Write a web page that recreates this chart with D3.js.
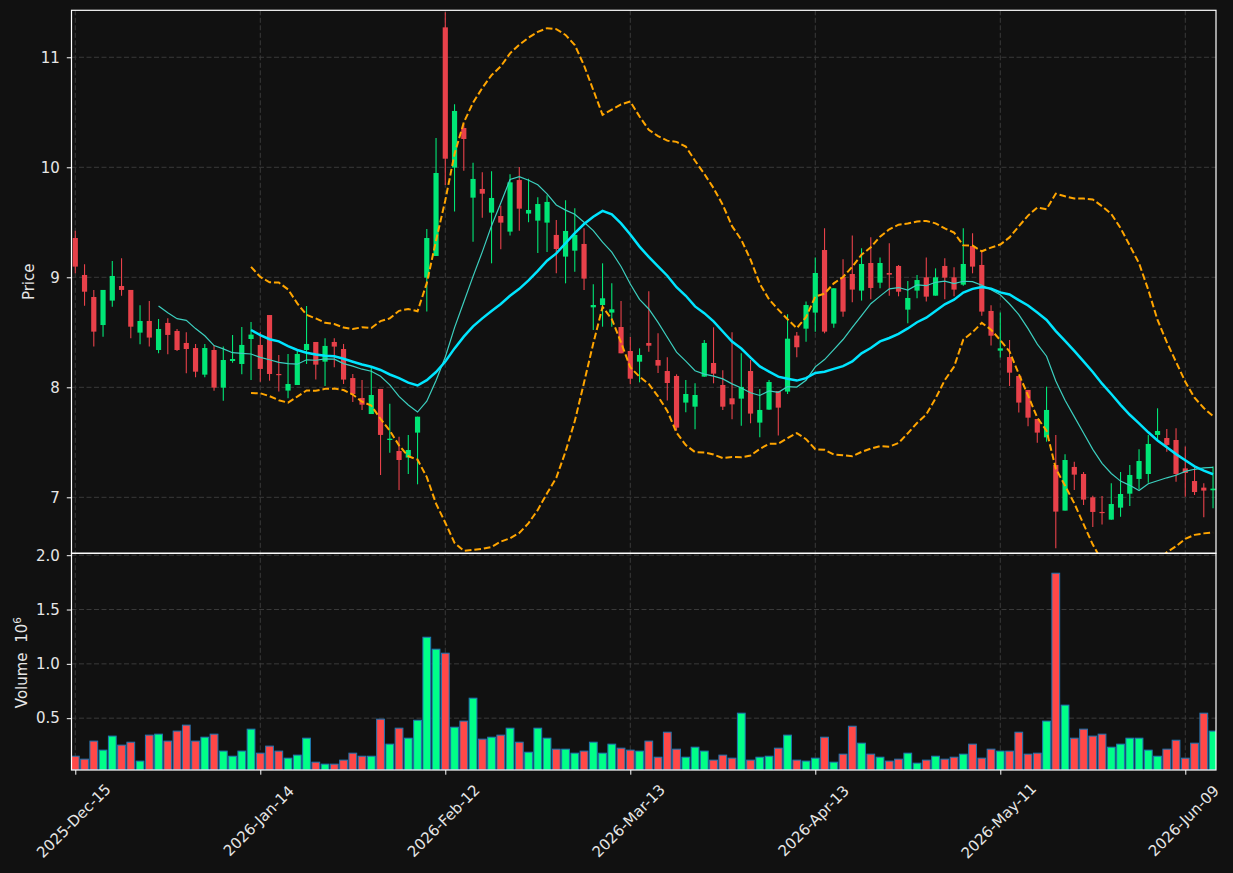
<!DOCTYPE html>
<html>
<head>
<meta charset="utf-8">
<script src="https://cdn.jsdelivr.net/npm/d3@7"></script>
<style>
  html, body { margin: 0; padding: 0; background: #111111; }
  svg { display: block; }
  text { font-family: "DejaVu Sans", sans-serif; }
</style>
</head>
<body>
<script>
// daily candles, 124 trading sessions starting 2025-Dec-15 (x is the session index)
const opens = [9.357,9.021,8.821,8.566,8.788,8.921,8.885,8.497,8.603,8.339,
  8.585,8.512,8.403,8.357,8.115,8.339,7.997,8.239,8.212,8.439,
  8.385,8.657,8.121,7.970,8.021,8.339,8.412,8.233,8.412,8.348,
  8.084,7.903,7.757,7.985,7.521,7.421,7.361,7.588,8.997,9.194,
  11.272,9.997,10.357,9.724,9.803,9.588,9.557,9.415,9.884,9.579,
  9.515,9.497,9.385,9.188,9.242,9.303,8.727,8.748,8.679,8.548,
  8.330,8.233,8.403,8.248,8.148,8.103,7.861,7.824,8.097,8.221,
  8.021,7.900,7.897,8.148,7.679,7.797,7.966,7.961,8.470,8.533,
  8.679,9.248,8.579,9.002,9.030,8.879,9.130,8.951,9.039,9.103,
  8.706,8.879,9.000,8.833,9.103,9.000,8.933,9.284,9.112,8.694,
  8.333,8.275,8.103,7.976,7.712,7.545,7.294,6.879,7.276,7.212,
  7.000,6.867,6.797,6.906,7.033,7.167,7.212,7.567,7.539,7.521,
  7.263,7.148,7.088,7.064];
const highs = [9.424,9.118,8.885,8.885,9.148,9.172,8.885,8.745,8.785,8.621,
  8.627,8.530,8.500,8.394,8.394,8.382,8.370,8.475,8.548,8.594,
  8.506,8.657,8.294,8.303,8.340,8.739,8.412,8.445,8.445,8.394,
  8.121,8.067,8.188,7.985,7.851,7.551,7.567,7.733,9.439,10.266,
  11.410,10.572,10.393,10.042,9.954,9.963,9.651,9.936,10.003,9.896,
  9.727,9.745,9.521,9.700,9.627,9.445,8.936,9.127,8.945,8.785,
  8.457,8.354,8.873,8.491,8.273,8.118,8.066,8.036,8.430,8.545,
  8.154,8.500,8.309,8.248,7.985,8.067,7.966,8.664,8.503,8.779,
  9.180,9.445,8.900,9.163,9.381,9.263,9.363,9.181,9.309,9.112,
  8.966,9.021,9.180,9.081,9.172,9.091,9.445,9.400,9.248,8.745,
  8.679,8.430,8.103,7.976,7.712,8.006,7.567,7.391,7.324,7.230,
  7.015,7.012,7.127,7.230,7.294,7.436,7.567,7.809,7.621,7.627,
  7.461,7.294,7.127,7.279];
const lows = [9.036,8.742,8.370,8.460,8.733,8.833,8.445,8.391,8.370,8.309,
  8.300,8.330,8.127,8.091,8.091,7.969,7.878,8.224,8.118,8.067,
  8.051,8.060,7.961,7.900,8.021,8.212,8.070,8.012,8.182,8.030,
  7.866,7.794,7.757,7.203,7.406,7.066,7.212,7.118,8.688,9.194,
  9.839,9.597,9.969,9.324,9.542,9.127,9.254,9.381,9.424,9.500,
  9.221,9.230,9.036,8.945,9.051,8.885,8.521,8.551,8.551,8.309,
  8.027,8.045,8.324,8.130,7.879,7.606,7.773,7.618,8.097,8.036,
  7.794,7.709,7.651,7.673,7.546,7.797,7.561,7.939,8.273,8.415,
  8.506,8.491,8.542,8.642,8.772,8.788,8.800,8.900,8.833,8.827,
  8.582,8.809,8.781,8.833,8.800,8.827,8.924,9.036,8.651,8.379,
  8.270,8.012,7.770,7.645,7.497,7.506,6.536,6.879,7.067,6.930,
  6.730,6.752,6.797,6.824,6.921,7.073,7.133,7.521,7.415,7.142,
  7.006,7.021,6.818,6.900];
const closes = [9.097,8.869,8.506,8.885,9.012,8.885,8.551,8.603,8.452,8.530,
  8.476,8.339,8.348,8.142,8.357,7.997,8.248,8.257,8.385,8.479,
  8.167,8.121,8.115,8.030,8.303,8.394,8.206,8.376,8.370,8.070,
  7.939,7.842,7.930,7.567,7.533,7.339,7.430,7.733,9.357,9.948,
  10.078,10.512,10.257,9.894,9.760,9.721,9.497,9.863,9.624,9.612,
  9.666,9.685,9.257,9.421,9.385,8.988,8.748,8.809,8.709,8.309,
  8.078,8.294,8.378,8.197,8.039,7.633,7.939,7.930,8.403,8.124,
  7.824,7.845,8.003,7.761,7.794,8.048,7.815,8.442,8.364,8.748,
  9.039,8.506,8.900,8.688,8.888,9.121,8.903,9.130,9.024,8.869,
  8.812,8.975,8.824,9.000,8.997,8.888,9.121,9.097,8.688,8.469,
  8.354,8.133,7.861,7.724,7.588,7.794,6.870,7.339,7.206,6.979,
  6.867,6.861,6.939,7.030,7.203,7.330,7.485,7.603,7.476,7.212,
  7.221,7.048,7.061,7.079];
// volume in millions
const volumes = [0.150,0.123,0.289,0.206,0.335,0.252,0.279,0.105,0.344,0.353,
  0.289,0.381,0.436,0.289,0.325,0.353,0.197,0.150,0.197,0.399,
  0.178,0.243,0.197,0.132,0.160,0.316,0.095,0.077,0.077,0.114,
  0.178,0.150,0.150,0.491,0.261,0.408,0.316,0.481,1.245,1.135,
  1.098,0.417,0.473,0.684,0.307,0.325,0.344,0.408,0.279,0.187,
  0.408,0.316,0.215,0.215,0.178,0.197,0.279,0.178,0.261,0.224,
  0.206,0.197,0.289,0.141,0.371,0.215,0.141,0.233,0.197,0.114,
  0.160,0.132,0.546,0.114,0.141,0.150,0.224,0.344,0.114,0.105,
  0.132,0.325,0.095,0.169,0.426,0.270,0.169,0.141,0.105,0.123,
  0.178,0.086,0.114,0.150,0.123,0.141,0.169,0.261,0.132,0.215,
  0.197,0.197,0.371,0.169,0.178,0.473,1.834,0.620,0.316,0.399,
  0.335,0.353,0.233,0.261,0.316,0.316,0.206,0.150,0.215,0.297,
  0.132,0.270,0.546,0.381];

const tickIdx = [0, 20, 40, 60, 80, 100, 120];
const tickLabels = ['2025-Dec-15','2026-Jan-14','2026-Feb-12','2026-Mar-13','2026-Apr-13','2026-May-11','2026-Jun-09'];
const priceTicks = [7, 8, 9, 10, 11];
const volTicks = [0.5, 1.0, 1.5, 2.0];

const width = 1233, height = 873;
const plotL = 71.5, plotR = 1216, plotT = 10.3, plotMid = 553.3, plotB = 770;

const upCol = '#00e676', downCol = '#e8414a';
const volUp = '#00ff88', volDown = '#ff4848';

// rolling stats from the closes
function rolling(n, fn) {
  return closes.map((c, i) => {
    if (i < n - 1) return null;
    return fn(closes.slice(i - n + 1, i + 1));
  });
}
// population std for the bands
const pstd = w => {
  const m = d3.mean(w);
  return Math.sqrt(d3.mean(w, v => (v - m) * (v - m)));
};
const ma10 = rolling(10, d3.mean);
const ma20 = rolling(20, d3.mean);
const bbUp = rolling(20, w => d3.mean(w) + 2 * pstd(w));
const bbLo = rolling(20, w => d3.mean(w) - 2 * pstd(w));

const x = d3.scaleLinear().domain([-0.41, 123.32]).range([plotL, plotR]);
const step = x(1) - x(0);
const yP = d3.scaleLinear().domain([6.491, 11.427]).range([plotMid, plotT]);
const yV = d3.scaleLinear()
  .domain([0.3 * d3.min(volumes), 1.1 * d3.max(volumes)])
  .range([plotB, plotMid]);

const svg = d3.select('body').append('svg')
  .attr('width', width)
  .attr('height', height);

svg.append('rect').attr('width', width).attr('height', height).attr('fill', '#111111');

const defs = svg.append('defs');
defs.append('clipPath').attr('id', 'clipP')
  .append('rect').attr('x', plotL).attr('y', plotT).attr('width', plotR - plotL).attr('height', plotMid - plotT);
defs.append('clipPath').attr('id', 'clipV')
  .append('rect').attr('x', plotL).attr('y', plotMid).attr('width', plotR - plotL).attr('height', plotB - plotMid);

// grid
const grid = svg.append('g')
  .attr('stroke', '#3a3a3a')
  .attr('stroke-width', 1)
  .attr('stroke-dasharray', '5,2.5');
grid.selectAll('.vg').data(tickIdx).enter().append('line')
  .attr('x1', d => x(d)).attr('x2', d => x(d))
  .attr('y1', plotT).attr('y2', plotB);
grid.selectAll('.hp').data(priceTicks).enter().append('line')
  .attr('x1', plotL).attr('x2', plotR)
  .attr('y1', d => yP(d)).attr('y2', d => yP(d));
grid.selectAll('.hv').data(volTicks).enter().append('line')
  .attr('x1', plotL).attr('x2', plotR)
  .attr('y1', d => yV(d)).attr('y2', d => yV(d));

// candles
const candles = svg.append('g').attr('clip-path', 'url(#clipP)');
const idx = d3.range(closes.length);
const colorOf = i => closes[i] >= opens[i] ? upCol : downCol;

candles.selectAll('.wick').data(idx).enter().append('line')
  .attr('x1', i => x(i)).attr('x2', i => x(i))
  .attr('y1', i => yP(highs[i])).attr('y2', i => yP(lows[i]))
  .attr('stroke', colorOf)
  .attr('stroke-width', 1.1);

const bodyW = step * 0.56;
candles.selectAll('.body').data(idx).enter().append('rect')
  .attr('x', i => x(i) - bodyW / 2)
  .attr('width', bodyW)
  .attr('y', i => yP(Math.max(opens[i], closes[i])))
  .attr('height', i => Math.max(1.2, Math.abs(yP(opens[i]) - yP(closes[i]))))
  .attr('fill', colorOf);

// moving averages and bands
const line = arr => d3.line()
  .defined(i => arr[i] != null)
  .x(i => x(i))
  .y(i => yP(arr[i]))(idx);

const lines = svg.append('g').attr('clip-path', 'url(#clipP)').attr('fill', 'none');
lines.append('path').attr('d', line(bbUp))
  .attr('stroke', '#ffa500').attr('stroke-width', 2).attr('stroke-dasharray', '6.7,2.9');
lines.append('path').attr('d', line(bbLo))
  .attr('stroke', '#ffa500').attr('stroke-width', 2).attr('stroke-dasharray', '6.7,2.9');
lines.append('path').attr('d', line(ma10))
  .attr('stroke', '#3ccfbf').attr('stroke-width', 1.2);
lines.append('path').attr('d', line(ma20))
  .attr('stroke', '#00e5ff').attr('stroke-width', 2.5);

// volume
const vol = svg.append('g').attr('clip-path', 'url(#clipV)');
const volW = step * 0.84;
vol.selectAll('rect').data(idx).enter().append('rect')
  .attr('x', i => x(i) - volW / 2)
  .attr('width', volW)
  .attr('y', i => yV(volumes[i]))
  .attr('height', i => plotB - yV(volumes[i]))
  .attr('fill', i => closes[i] >= opens[i] ? volUp : volDown)
  .attr('stroke', '#1f77b4')
  .attr('stroke-width', 1);

// axes
function styleAxis(g) {
  g.select('.domain').remove();
  g.selectAll('.tick line').attr('stroke', '#ffffff').attr('stroke-width', 1);
  g.selectAll('.tick text').attr('fill', '#e6e6e6').style('font-size', '15px');
}

svg.append('g')
  .attr('transform', `translate(${plotL},0)`)
  .call(d3.axisLeft(yP).tickValues(priceTicks).tickFormat(d3.format('d')).tickSize(4.7).tickPadding(7))
  .call(styleAxis);

svg.append('g')
  .attr('transform', `translate(${plotL},0)`)
  .call(d3.axisLeft(yV).tickValues(volTicks).tickFormat(d3.format('.1f')).tickSize(4.7).tickPadding(7))
  .call(styleAxis);

const xAxis = svg.append('g')
  .attr('transform', `translate(0,${plotB})`)
  .call(d3.axisBottom(x).tickValues(tickIdx).tickFormat((d, k) => tickLabels[k]).tickSize(4.7))
  .call(styleAxis);
xAxis.selectAll('.tick text')
  .attr('text-anchor', 'middle')
  .attr('dy', null)
  .attr('y', null)
  .attr('dominant-baseline', 'central')
  .attr('transform', 'translate(-2,51) rotate(-45)');

// frames
svg.append('g').attr('fill', 'none').attr('stroke', '#ffffff').attr('stroke-width', 1.2)
  .selectAll('rect').data([[plotT, plotMid], [plotMid, plotB]]).enter().append('rect')
  .attr('x', plotL).attr('y', d => d[0])
  .attr('width', plotR - plotL).attr('height', d => d[1] - d[0]);

// axis labels
svg.append('text')
  .attr('transform', `translate(33.5,${(plotT + plotMid) / 2}) rotate(-90)`)
  .attr('text-anchor', 'middle')
  .attr('fill', '#e6e6e6')
  .style('font-size', '15px')
  .text('Price');

const vl = svg.append('text')
  .attr('transform', `translate(26.5,${(plotMid + plotB) / 2 + 1}) rotate(-90)`)
  .attr('text-anchor', 'middle')
  .attr('fill', '#e6e6e6')
  .style('font-size', '15px');
vl.append('tspan').text('Volume\u00a0\u00a010');
vl.append('tspan').attr('dy', -6).style('font-size', '10.5px').text('6');
</script>
</body>
</html>
